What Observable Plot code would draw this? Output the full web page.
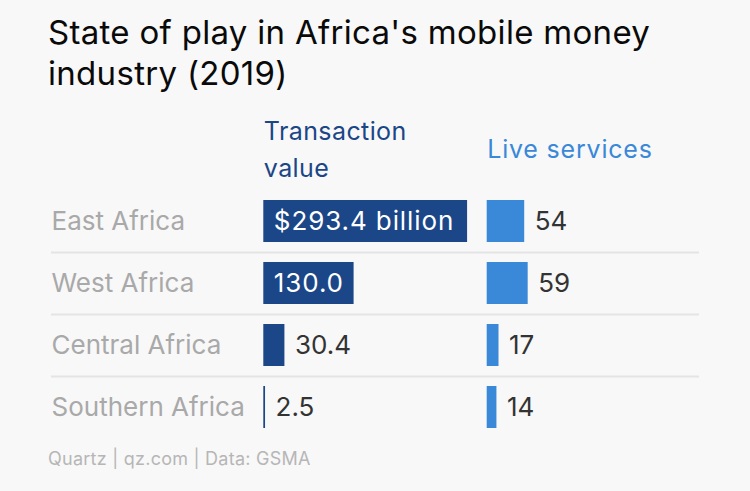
<!DOCTYPE html>
<html>
<head>
<meta charset="utf-8">
<script src="https://cdn.jsdelivr.net/npm/d3@7"></script>
<script src="https://cdn.jsdelivr.net/npm/@observablehq/plot@0.6"></script>
<style>
  html, body { margin: 0; padding: 0; background: #f8f8f8; }
  body { width: 750px; height: 491px; overflow: hidden; font-family: Inter, "Noto Sans", sans-serif; }
  h1 {
    margin: 0; padding: 12px 0 0 48px;
    font-size: 33px; line-height: 41px; font-weight: 400; color: #0a0a0a;
    letter-spacing: 0.3px;
  }
  #chart svg { display: block; }
  #chart g[aria-description="tx-header"] text { letter-spacing: 0.4px; }
  #chart g[aria-description="live-header"] text { letter-spacing: 0.8px; }
  #chart g[aria-description="tx-inside"] text { letter-spacing: 0.9px; }
  .source { margin: 4px 0 0 48px; font-size: 18px; line-height: 22px; color: #b6b6b6; letter-spacing: 0.25px; }
</style>
</head>
<body>
<h1>State of play in Africa's mobile money<br>industry (2019)</h1>
<div id="chart"></div>
<div class="source">Quartz | qz.com | Data: GSMA</div>
<script>
// Mobile money in Africa, 2019 (GSMA)
const regions = ["East Africa", "West Africa", "Central Africa", "Southern Africa"];
const transactionValue = [293.4, 130.0, 30.4, 2.5]; // US$ billion
const liveServices = [54, 59, 17, 14];
const metrics = ["Transaction value", "Live services"];

const darkBlue = "#1b4687";
const lightBlue = "#3a88d8";

const transactions = regions.map((region, i) => ({region, metric: metrics[0], value: transactionValue[i]}));
const services = regions.map((region, i) => ({region, metric: metrics[1], value: liveServices[i]}));

const fmtValue = (d) => d.region === regions[0] ? `$${d.value.toFixed(1)} billion` : d.value.toFixed(1);

// the three columns are equal bands; nudge the data columns onto their gutters
const txShift = -3.7;
const liveShift = 3.7;
const rowHalfStep = 31;
const fontSize = 26;

const chart = Plot.plot({
  width: 750,
  height: 350,
  marginTop: 96,
  marginBottom: 6,
  marginLeft: 50,
  marginRight: 50,
  style: {fontFamily: "Inter, 'Noto Sans', sans-serif", background: "transparent", overflow: "visible"},
  fx: {domain: ["names", ...metrics], padding: 0, axis: null},
  y: {domain: regions, paddingInner: 0.32, paddingOuter: 0.16, axis: null},
  x: {domain: [0, 311], axis: null},
  marks: [
    // row separators
    Plot.ruleY(regions.slice(1), {y: (d) => d, stroke: "#e4e4e4", strokeWidth: 2, dy: -rowHalfStep}),
    // column headers
    Plot.text([metrics[0]], {fx: (d) => d, text: (d) => d, frameAnchor: "top-left", textAnchor: "start",
      lineAnchor: "middle", lineWidth: 6.5, lineHeight: 1.48, fontSize: 25, fill: darkBlue, dx: txShift, dy: -44,
      ariaDescription: "tx-header"}),
    Plot.text([metrics[1]], {fx: (d) => d, text: (d) => d, frameAnchor: "top-left", textAnchor: "start",
      lineAnchor: "middle", lineWidth: 6.5, fontSize: 25, fill: lightBlue, dx: liveShift, dy: -41,
      ariaDescription: "live-header"}),
    // region names
    Plot.text(regions, {fx: () => "names", y: (d) => d, text: (d) => d, frameAnchor: "left", textAnchor: "start",
      fontSize, fill: "#a9a9a9"}),
    // transaction value
    Plot.barX(transactions, {x: "value", y: "region", fx: "metric", fill: darkBlue, dx: txShift}),
    Plot.text(transactions.filter((d) => d.value >= 100), {y: "region", fx: "metric", text: fmtValue,
      frameAnchor: "left", textAnchor: "start", fontSize, fill: "white", dx: txShift + 10,
      ariaDescription: "tx-inside"}),
    Plot.text(transactions.filter((d) => d.value < 100), {x: "value", y: "region", fx: "metric", text: fmtValue,
      textAnchor: "start", fontSize, fill: "#333", dx: txShift + 10}),
    // live services
    Plot.barX(services, {x: "value", y: "region", fx: "metric", fill: lightBlue, dx: liveShift}),
    Plot.text(services, {x: "value", y: "region", fx: "metric", text: (d) => String(d.value),
      textAnchor: "start", fontSize, fill: "#333", dx: liveShift + 10})
  ]
});
document.getElementById("chart").append(chart);
</script>
</body>
</html>
